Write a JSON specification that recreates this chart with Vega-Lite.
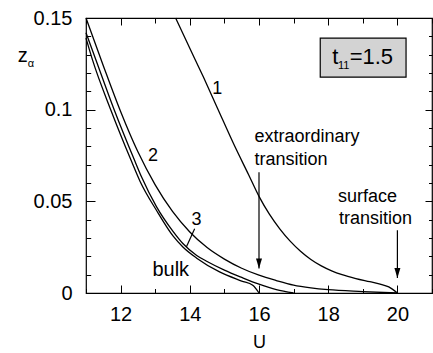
{
  "$schema": "https://vega.github.io/schema/vega-lite/v6.json",
  "width": 346,
  "height": 275,
  "autosize": {"type": "none"},
  "padding": {"left": 86, "top": 18, "right": 1, "bottom": 60},
  "background": "white",
  "config": {
    "view": {"stroke": "black", "strokeWidth": 1.2},
    "axis": {"labelFont": "Liberation Sans", "labelColor": "black", "tickColor": "black", "tickWidth": 1, "grid": false, "title": null, "domain": false, "labelFlush": false},
    "text": {"font": "Liberation Sans", "color": "black", "align": "left", "baseline": "alphabetic"}
  },
  "datasets": {
    "curves": [
      {"curve": "1", "U": 13.59, "z": 0.150},
      {"curve": "1", "U": 14.0, "z": 0.1335},
      {"curve": "1", "U": 14.4, "z": 0.1175},
      {"curve": "1", "U": 14.8, "z": 0.1008},
      {"curve": "1", "U": 15.3, "z": 0.0800},
      {"curve": "1", "U": 15.7, "z": 0.0645},
      {"curve": "1", "U": 16.0, "z": 0.0527},
      {"curve": "1", "U": 16.3, "z": 0.0430},
      {"curve": "1", "U": 16.6, "z": 0.0350},
      {"curve": "1", "U": 16.9, "z": 0.0283},
      {"curve": "1", "U": 17.2, "z": 0.0228},
      {"curve": "1", "U": 17.5, "z": 0.0183},
      {"curve": "1", "U": 17.8, "z": 0.0148},
      {"curve": "1", "U": 18.1, "z": 0.0121},
      {"curve": "1", "U": 18.4, "z": 0.0100},
      {"curve": "1", "U": 18.8, "z": 0.0079},
      {"curve": "1", "U": 19.2, "z": 0.0062},
      {"curve": "1", "U": 19.5, "z": 0.0049},
      {"curve": "1", "U": 19.75, "z": 0.0033},
      {"curve": "1", "U": 20.0, "z": 0.0},
      {"curve": "2", "U": 11.0, "z": 0.150},
      {"curve": "2", "U": 11.5, "z": 0.124},
      {"curve": "2", "U": 12.0, "z": 0.099},
      {"curve": "2", "U": 12.5, "z": 0.077},
      {"curve": "2", "U": 13.0, "z": 0.059},
      {"curve": "2", "U": 13.5, "z": 0.0445},
      {"curve": "2", "U": 14.0, "z": 0.0333},
      {"curve": "2", "U": 14.5, "z": 0.0248},
      {"curve": "2", "U": 15.0, "z": 0.0185},
      {"curve": "2", "U": 15.5, "z": 0.0135},
      {"curve": "2", "U": 16.0, "z": 0.0097},
      {"curve": "2", "U": 16.5, "z": 0.0068},
      {"curve": "2", "U": 17.0, "z": 0.0043},
      {"curve": "2", "U": 17.5, "z": 0.0028},
      {"curve": "2", "U": 18.0, "z": 0.0018},
      {"curve": "2", "U": 19.0, "z": 0.0008},
      {"curve": "2", "U": 20.0, "z": 0.0},
      {"curve": "3", "U": 11.0, "z": 0.142},
      {"curve": "3", "U": 11.29, "z": 0.127},
      {"curve": "3", "U": 11.82, "z": 0.0997},
      {"curve": "3", "U": 12.4, "z": 0.0725},
      {"curve": "3", "U": 12.6, "z": 0.0635},
      {"curve": "3", "U": 13.04, "z": 0.047},
      {"curve": "3", "U": 13.52, "z": 0.0335},
      {"curve": "3", "U": 13.8, "z": 0.027},
      {"curve": "3", "U": 14.2, "z": 0.0205},
      {"curve": "3", "U": 14.5, "z": 0.0172},
      {"curve": "3", "U": 15.0, "z": 0.0125},
      {"curve": "3", "U": 15.5, "z": 0.0085},
      {"curve": "3", "U": 16.0, "z": 0.0048},
      {"curve": "3", "U": 16.5, "z": 0.0018},
      {"curve": "3", "U": 17.0, "z": 0.0},
      {"curve": "bulk", "U": 11.0, "z": 0.139},
      {"curve": "bulk", "U": 11.19, "z": 0.127},
      {"curve": "bulk", "U": 11.72, "z": 0.0997},
      {"curve": "bulk", "U": 12.3, "z": 0.0725},
      {"curve": "bulk", "U": 12.56, "z": 0.061},
      {"curve": "bulk", "U": 13.04, "z": 0.045},
      {"curve": "bulk", "U": 13.52, "z": 0.031},
      {"curve": "bulk", "U": 13.8, "z": 0.0251},
      {"curve": "bulk", "U": 14.2, "z": 0.019},
      {"curve": "bulk", "U": 14.86, "z": 0.0115},
      {"curve": "bulk", "U": 15.5, "z": 0.0065},
      {"curve": "bulk", "U": 15.82, "z": 0.0042},
      {"curve": "bulk", "U": 16.0, "z": 0.0}
    ],
    "rules": [
      {"U": 16, "z": 0.0658, "U2": 16, "z2": 0.0133},
      {"U": 20, "z": 0.0342, "U2": 20, "z2": 0.0082},
      {"U": 14.14, "z": 0.0351, "U2": 13.9, "z2": 0.0251}
    ],
    "heads": [
      {"U": 16, "z": 0.0133},
      {"U": 20, "z": 0.0082}
    ],
    "text18": [
      {"U": 14.65, "z": 0.1088, "t": "1"},
      {"U": 12.79, "z": 0.0718, "t": "2"},
      {"U": 14.05, "z": 0.0373, "t": "3"},
      {"U": 15.87, "z": 0.0824, "t": "extraordinary"},
      {"U": 15.87, "z": 0.0697, "t": "transition"},
      {"U": 18.28, "z": 0.0497, "t": "surface"},
      {"U": 18.31, "z": 0.0379, "t": "transition"},
      {"U": 15.83, "z": -0.0302, "t": "U"}
    ],
    "text20": [
      {"U": 12.92, "z": 0.0091, "t": "bulk"},
      {"U": 9.03, "z": 0.126, "t": "z"}
    ],
    "text22": [
      {"U": 18.12, "z": 0.1251, "t": "t"},
      {"U": 18.62, "z": 0.1251, "t": "=1.5"}
    ],
    "text12": [
      {"U": 18.28, "z": 0.1224, "t": "11"},
      {"U": 9.32, "z": 0.1233, "t": "α"}
    ],
    "box": [
      {"U": 17.77, "U2": 20.25, "z": 0.139, "z2": 0.1177}
    ]
  },
  "resolve": {"axis": {"x": "independent", "y": "independent"}},
  "layer": [
    {
      "data": {"name": "box"},
      "mark": {"type": "rect", "fill": "#d3d3d3", "stroke": "black", "strokeWidth": 1.2},
      "encoding": {
        "x": {"field": "U", "type": "quantitative", "scale": {"domain": [11, 21], "nice": false, "zero": false}, "axis": null},
        "x2": {"field": "U2"},
        "y": {"field": "z", "type": "quantitative", "scale": {"domain": [0, 0.15], "nice": false}, "axis": null},
        "y2": {"field": "z2"}
      }
    },
    {
      "data": {"name": "curves"},
      "mark": {"type": "line", "color": "black", "strokeWidth": 1.3, "interpolate": "monotone"},
      "encoding": {
        "x": {"field": "U", "type": "quantitative", "scale": {"domain": [11, 21], "nice": false, "zero": false},
              "axis": {"orient": "bottom", "values": [12, 14, 16, 18, 20], "ticks": false, "labelPadding": 11, "labelFontSize": 20}},
        "y": {"field": "z", "type": "quantitative", "scale": {"domain": [0, 0.15], "nice": false},
              "axis": {"orient": "left", "values": [0, 0.05, 0.1, 0.15], "format": ".2~f", "ticks": false, "labelPadding": 14, "labelFontSize": 20}},
        "detail": {"field": "curve"}
      }
    },
    {
      "data": {"name": "rules"},
      "mark": {"type": "rule", "color": "black", "strokeWidth": 1.2},
      "encoding": {
        "x": {"field": "U", "type": "quantitative", "scale": {"domain": [11, 21], "nice": false, "zero": false},
              "axis": {"orient": "bottom", "values": [12, 14, 16, 18, 20], "labels": false, "tickSize": -8}},
        "x2": {"field": "U2"},
        "y": {"field": "z", "type": "quantitative", "scale": {"domain": [0, 0.15], "nice": false},
              "axis": {"orient": "left", "values": [0, 0.05, 0.1, 0.15], "labels": false, "tickSize": -9}},
        "y2": {"field": "z2"}
      }
    },
    {
      "data": {"name": "heads"},
      "mark": {"type": "point", "filled": true, "color": "black", "opacity": 1, "size": 400, "shape": "M-0.3,-1L0.3,-1L0,0Z"},
      "encoding": {
        "x": {"field": "U", "type": "quantitative", "scale": {"domain": [11, 21], "nice": false, "zero": false},
              "axis": {"orient": "bottom", "values": [11, 13, 15, 17, 19, 21], "labels": false, "tickSize": -4.5}},
        "y": {"field": "z", "type": "quantitative", "scale": {"domain": [0, 0.15], "nice": false},
              "axis": {"orient": "left", "values": [0.01, 0.02, 0.03, 0.04, 0.06, 0.07, 0.08, 0.09, 0.11, 0.12, 0.13, 0.14], "labels": false, "tickSize": -4.7}}
      }
    },
    {
      "data": {"name": "text18"},
      "mark": {"type": "text", "fontSize": 18},
      "encoding": {
        "x": {"field": "U", "type": "quantitative", "scale": {"domain": [11, 21], "nice": false, "zero": false},
              "axis": {"orient": "top", "values": [12, 14, 16, 18, 20], "labels": false, "tickSize": -7}},
        "y": {"field": "z", "type": "quantitative", "scale": {"domain": [0, 0.15], "nice": false},
              "axis": {"orient": "right", "values": [0, 0.05, 0.1, 0.15], "labels": false, "tickSize": -7}},
        "text": {"field": "t"}
      }
    },
    {
      "data": {"name": "text20"},
      "mark": {"type": "text", "fontSize": 20},
      "encoding": {
        "x": {"field": "U", "type": "quantitative", "scale": {"domain": [11, 21], "nice": false, "zero": false},
              "axis": {"orient": "top", "values": [11, 13, 15, 17, 19, 21], "labels": false, "tickSize": -5}},
        "y": {"field": "z", "type": "quantitative", "scale": {"domain": [0, 0.15], "nice": false},
              "axis": {"orient": "right", "values": [0.01, 0.02, 0.03, 0.04, 0.06, 0.07, 0.08, 0.09, 0.11, 0.12, 0.13, 0.14], "labels": false, "tickSize": -3.5}},
        "text": {"field": "t"}
      }
    },
    {
      "data": {"name": "text22"},
      "mark": {"type": "text", "fontSize": 22},
      "encoding": {
        "x": {"field": "U", "type": "quantitative", "scale": {"domain": [11, 21], "nice": false, "zero": false}, "axis": null},
        "y": {"field": "z", "type": "quantitative", "scale": {"domain": [0, 0.15], "nice": false}, "axis": null},
        "text": {"field": "t"}
      }
    },
    {
      "data": {"name": "text12"},
      "mark": {"type": "text", "fontSize": 11},
      "encoding": {
        "x": {"field": "U", "type": "quantitative", "scale": {"domain": [11, 21], "nice": false, "zero": false}, "axis": null},
        "y": {"field": "z", "type": "quantitative", "scale": {"domain": [0, 0.15], "nice": false}, "axis": null},
        "text": {"field": "t"}
      }
    }
  ]
}
